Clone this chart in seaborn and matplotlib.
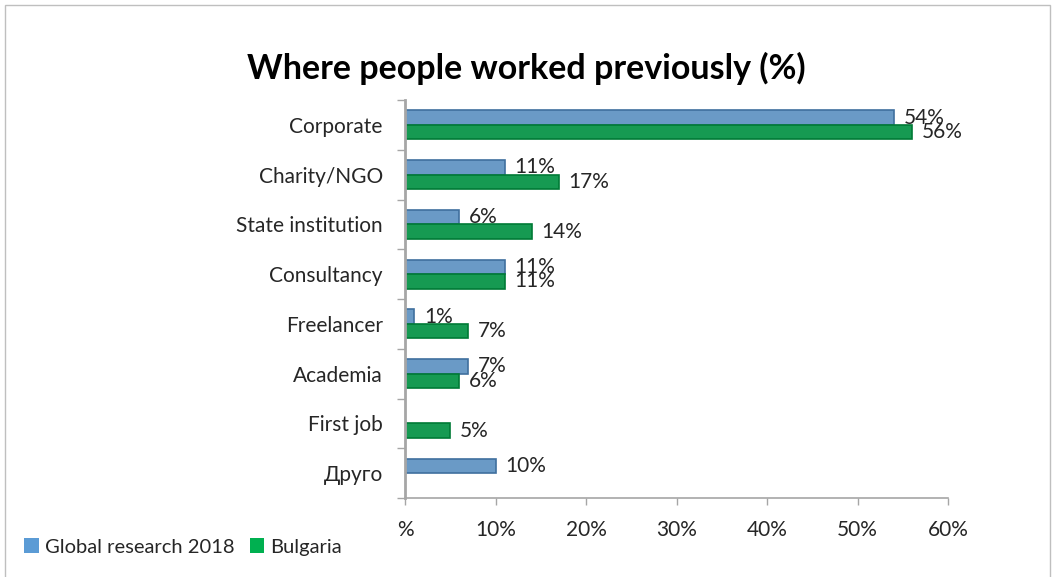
import numpy as np
import pandas as pd
import matplotlib
matplotlib.use("Agg")
import matplotlib.pyplot as plt
import seaborn as sns
from matplotlib.patches import Rectangle, Patch
from matplotlib.transforms import ScaledTranslation

categories = ["Corporate", "Charity/NGO", "State institution", "Consultancy",
              "Freelancer", "Academia", "First job", "Друго"]
global_2018 = [54, 11, 6, 11, 1, 7, 0, 10]
bulgaria = [56, 17, 14, 11, 7, 6, 5, 0]
series_names = ["Global research 2018", "Bulgaria"]
x_ticks = [0, 10, 20, 30, 40, 50, 60]
x_tick_labels = ["%", "10%", "20%", "30%", "40%", "50%", "60%"]
title = "Where people worked previously (%)"

sns.set_theme(style="white")
plt.rcParams["font.family"] = ["Lato", "DejaVu Sans"]

df = pd.DataFrame({
    "category": categories * 2,
    "value": global_2018 + bulgaria,
    "series": [series_names[0]] * len(categories) + [series_names[1]] * len(categories),
})

colors = {series_names[0]: "#5B9BD5", series_names[1]: "#00B050"}
edges = {series_names[0]: "#3F6F9E", series_names[1]: "#007A36"}

fig = plt.figure(figsize=(10.54, 5.77), dpi=100)
ax = fig.add_axes([405 / 1054, 1 - 498 / 577, (948 - 405) / 1054, (498 - 100) / 577])

sns.barplot(data=df, y="category", x="value", hue="series", orient="h",
            palette=colors, width=0.58, gap=0.0, ax=ax, legend=False,
            order=categories, hue_order=series_names)

offset = ScaledTranslation(0, -2.0 / 72, fig.dpi_scale_trans)
for container, name in zip(ax.containers, series_names):
    vals = global_2018 if name == series_names[0] else bulgaria
    for bar, v in zip(container, vals):
        bar.set_edgecolor(edges[name])
        bar.set_linewidth(1.2 if v > 0 else 0.0)
    labels = [f"{int(v)}%" if v > 0 else "" for v in vals]
    texts = ax.bar_label(container, labels=labels, padding=7, fontsize=15,
                         color="#262626")
    for t in texts:
        t.set_verticalalignment("center")
        t.set_transform(t.get_transform() + offset)

ax.set_xlim(0, 60)
ax.set_ylim(len(categories) - 0.5, -0.5)
ax.set_xticks(x_ticks)
ax.set_xticklabels(x_tick_labels)
ax.set_yticks(range(len(categories)))
ax.set_yticklabels(categories)
ax.set_yticks(np.arange(-0.5, len(categories), 1.0), minor=True)
ax.set_xlabel("")
ax.set_ylabel("")

ax.tick_params(axis="y", which="major", length=0, pad=16, labelsize=15,
               labelcolor="#262626")
ax.tick_params(axis="y", which="minor", length=6, width=1, color="#A6A6A6",
               left=True)
ax.tick_params(axis="x", which="major", length=5, width=1, color="#A6A6A6",
               bottom=True, pad=11, labelsize=15, labelcolor="#262626")

for s in ["top", "right"]:
    ax.spines[s].set_visible(False)
ax.spines["left"].set_color("#A6A6A6")
ax.spines["left"].set_linewidth(2.0)
ax.spines["bottom"].set_color("#A6A6A6")
ax.spines["bottom"].set_linewidth(1.2)
ax.grid(False)

fig.text(526 / 1054, 1 - 68 / 577, title, ha="center", va="center",
         fontsize=24.5, fontweight="bold", color="#000000")

handles = [Patch(facecolor=colors[n], edgecolor="none", label=n) for n in series_names]
fig.legend(handles=handles, loc="center left", bbox_to_anchor=(0.006, 1 - 547 / 577),
           ncol=2, frameon=False, fontsize=14.5, handlelength=0.7, handleheight=0.7,
           handletextpad=0.3, columnspacing=0.8, labelcolor="#262626")

fig.patches.append(Rectangle((5 / 1054, -0.01), 1045 / 1054, 1 - 5 / 577 + 0.01,
                             transform=fig.transFigure, fill=False,
                             edgecolor="#BFBFBF", linewidth=1.0))

fig.savefig("out.png", dpi=100)
